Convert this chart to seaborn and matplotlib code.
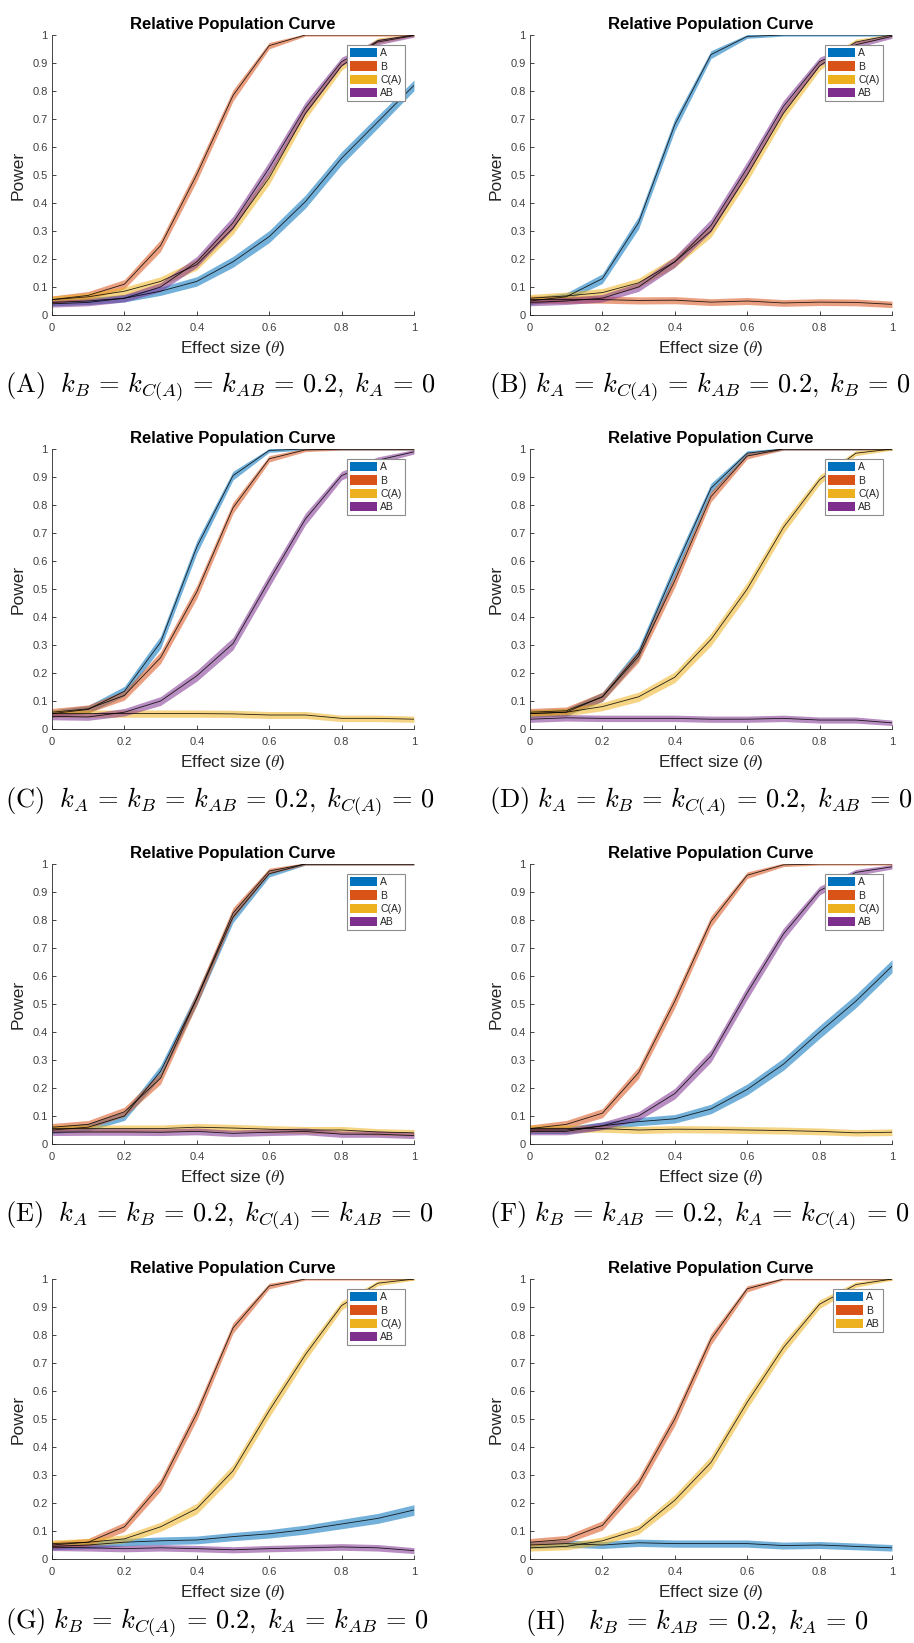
import numpy as np
import pandas as pd
import matplotlib
matplotlib.use("Agg")
import matplotlib.pyplot as plt
import seaborn as sns
from matplotlib.patches import Patch
from matplotlib.ticker import FuncFormatter

# ---------------- data ----------------
theta = [0.0, 0.1, 0.2, 0.3, 0.4, 0.5, 0.6, 0.7, 0.8, 0.9, 1.0]

# Panel A
pA_A  = [0.045, 0.050, 0.060, 0.085, 0.120, 0.190, 0.280, 0.405, 0.560, 0.690, 0.820]
pA_B  = [0.055, 0.070, 0.110, 0.248, 0.502, 0.784, 0.962, 1.000, 1.000, 1.000, 1.000]
pA_C  = [0.055, 0.065, 0.085, 0.120, 0.180, 0.310, 0.490, 0.720, 0.890, 0.980, 1.000]
pA_AB = [0.040, 0.045, 0.060, 0.100, 0.190, 0.330, 0.525, 0.740, 0.905, 0.975, 0.998]
# Panel B
pB_A  = [0.050, 0.065, 0.130, 0.330, 0.680, 0.930, 0.995, 1.000, 1.000, 1.000, 1.000]
pB_B  = [0.055, 0.055, 0.055, 0.052, 0.053, 0.046, 0.050, 0.043, 0.046, 0.045, 0.038]
pB_C  = [0.060, 0.068, 0.080, 0.115, 0.190, 0.300, 0.500, 0.720, 0.890, 0.975, 1.000]
pB_AB = [0.045, 0.050, 0.060, 0.100, 0.190, 0.320, 0.525, 0.745, 0.905, 0.965, 0.995]
# Panel C
pC_A  = [0.055, 0.070, 0.135, 0.310, 0.650, 0.905, 0.995, 1.000, 1.000, 1.000, 1.000]
pC_B  = [0.060, 0.072, 0.120, 0.255, 0.490, 0.790, 0.965, 0.997, 1.000, 1.000, 1.000]
pC_C  = [0.055, 0.055, 0.055, 0.055, 0.055, 0.054, 0.050, 0.050, 0.038, 0.038, 0.035]
pC_AB = [0.045, 0.043, 0.060, 0.100, 0.190, 0.305, 0.530, 0.750, 0.905, 0.960, 0.990]
# Panel D
pD_A  = [0.055, 0.060, 0.115, 0.270, 0.570, 0.860, 0.985, 1.000, 1.000, 1.000, 1.000]
pD_B  = [0.060, 0.065, 0.115, 0.260, 0.530, 0.830, 0.975, 1.000, 1.000, 1.000, 1.000]
pD_C  = [0.055, 0.060, 0.080, 0.115, 0.185, 0.320, 0.500, 0.720, 0.890, 0.985, 1.000]
pD_AB = [0.035, 0.040, 0.038, 0.038, 0.038, 0.035, 0.035, 0.038, 0.032, 0.032, 0.022]
# Panel E
pE_A  = [0.050, 0.060, 0.100, 0.260, 0.520, 0.810, 0.965, 1.000, 1.000, 1.000, 1.000]
pE_B  = [0.060, 0.070, 0.115, 0.235, 0.520, 0.825, 0.975, 1.000, 1.000, 1.000, 1.000]
pE_C  = [0.055, 0.055, 0.055, 0.055, 0.060, 0.057, 0.053, 0.050, 0.050, 0.043, 0.040]
pE_AB = [0.042, 0.043, 0.043, 0.042, 0.045, 0.038, 0.042, 0.045, 0.035, 0.035, 0.030]
# Panel F
pF_A  = [0.050, 0.050, 0.065, 0.080, 0.090, 0.125, 0.195, 0.285, 0.400, 0.510, 0.635]
pF_B  = [0.055, 0.070, 0.110, 0.255, 0.510, 0.795, 0.960, 0.997, 1.000, 1.000, 1.000]
pF_C  = [0.055, 0.055, 0.055, 0.050, 0.053, 0.052, 0.050, 0.048, 0.045, 0.040, 0.042]
pF_AB = [0.045, 0.045, 0.065, 0.100, 0.180, 0.315, 0.540, 0.750, 0.905, 0.970, 0.990]
# Panel G
pG_A  = [0.045, 0.050, 0.060, 0.065, 0.068, 0.080, 0.090, 0.105, 0.125, 0.145, 0.175]
pG_B  = [0.050, 0.060, 0.115, 0.265, 0.520, 0.825, 0.975, 1.000, 1.000, 1.000, 1.000]
pG_C  = [0.055, 0.060, 0.072, 0.115, 0.180, 0.315, 0.530, 0.730, 0.905, 0.985, 1.000]
pG_AB = [0.042, 0.040, 0.037, 0.040, 0.037, 0.033, 0.037, 0.040, 0.043, 0.040, 0.030]
# Panel H (three series)
pH_A  = [0.050, 0.055, 0.050, 0.058, 0.055, 0.055, 0.055, 0.048, 0.050, 0.045, 0.040]
pH_B  = [0.060, 0.070, 0.120, 0.270, 0.500, 0.785, 0.965, 1.000, 1.000, 1.000, 1.000]
pH_AB = [0.040, 0.045, 0.065, 0.105, 0.210, 0.345, 0.560, 0.755, 0.910, 0.980, 1.000]

labels4 = ["A", "B", "C(A)", "AB"]
labels3 = ["A", "B", "AB"]
colors4 = ["#0072BD", "#D95319", "#EDB120", "#7E2F8E"]
colors3 = ["#0072BD", "#D95319", "#EDB120"]
N_SIM = 2500  # simulations per point, used for the binomial confidence band

EQ = r"\,=\,"
CM = r",\;"
panels = [
    ("A", labels4, colors4, [pA_A, pA_B, pA_C, pA_AB],
     r"$\mathrm{(A)}\ \ k_B" + EQ + r"k_{C(A)}" + EQ + r"k_{AB}" + EQ + r"0.2" + CM + r"k_A" + EQ + r"0$"),
    ("B", labels4, colors4, [pB_A, pB_B, pB_C, pB_AB],
     r"$\mathrm{(B)}\ k_A" + EQ + r"k_{C(A)}" + EQ + r"k_{AB}" + EQ + r"0.2" + CM + r"k_B" + EQ + r"0$"),
    ("C", labels4, colors4, [pC_A, pC_B, pC_C, pC_AB],
     r"$\mathrm{(C)}\ \ k_A" + EQ + r"k_B" + EQ + r"k_{AB}" + EQ + r"0.2" + CM + r"k_{C(A)}" + EQ + r"0$"),
    ("D", labels4, colors4, [pD_A, pD_B, pD_C, pD_AB],
     r"$\mathrm{(D)}\ k_A" + EQ + r"k_B" + EQ + r"k_{C(A)}" + EQ + r"0.2" + CM + r"k_{AB}" + EQ + r"0$"),
    ("E", labels4, colors4, [pE_A, pE_B, pE_C, pE_AB],
     r"$\mathrm{(E)}\ \ k_A" + EQ + r"k_B" + EQ + r"0.2" + CM + r"k_{C(A)}" + EQ + r"k_{AB}" + EQ + r"0$"),
    ("F", labels4, colors4, [pF_A, pF_B, pF_C, pF_AB],
     r"$\mathrm{(F)}\ k_B" + EQ + r"k_{AB}" + EQ + r"0.2" + CM + r"k_A" + EQ + r"k_{C(A)}" + EQ + r"0$"),
    ("G", labels4, colors4, [pG_A, pG_B, pG_C, pG_AB],
     r"$\mathrm{(G)}\ k_B" + EQ + r"k_{C(A)}" + EQ + r"0.2" + CM + r"k_A" + EQ + r"k_{AB}" + EQ + r"0$"),
    ("H", labels3, colors3, [pH_A, pH_B, pH_AB],
     r"$\mathrm{(H)}\ \ \ k_B" + EQ + r"k_{AB}" + EQ + r"0.2" + CM + r"k_A" + EQ + r"0$"),
]

# ---------------- style ----------------
sns.set_theme(style="ticks")
plt.rcParams["font.family"] = ["Liberation Sans", "DejaVu Sans"]
plt.rcParams["mathtext.fontset"] = "cm"
plt.rcParams["axes.unicode_minus"] = False

W, H = 914, 1643
fig = plt.figure(figsize=(W / 100, H / 100), dpi=100)
fig.patch.set_facecolor("white")

ax_w, ax_h = 362, 280
col_x = [52, 530]
row_top = [35, 449, 864, 1279]
cap_x = [5, 489]
cap_base = [393, 808, 1222, 1629]
axis_gray = "#262626"

for i, (letter, labels, colors, series, caption) in enumerate(panels):
    r, c = divmod(i, 2)
    x0 = col_x[c]
    top = row_top[r]
    ax = fig.add_axes([x0 / W, 1 - (top + ax_h) / H, ax_w / W, ax_h / H])
    ax.set_facecolor("white")

    rows = []
    for lab, vals in zip(labels, series):
        for t, v in zip(theta, vals):
            rows.append({"theta": t, "power": v, "series": lab})
    df = pd.DataFrame(rows)

    # confidence bands + mean lines
    for lab, col in zip(labels, colors):
        sub = df[df["series"] == lab]
        p = sub["power"].to_numpy()
        half = 1.96 * np.sqrt(np.clip(p * (1 - p), 0, None) / N_SIM) + 0.004
        ax.fill_between(sub["theta"], p - half, p + half, color=col,
                        alpha=0.55, linewidth=0)
        sns.lineplot(data=sub, x="theta", y="power", color="black",
                     linewidth=0.6, alpha=0.85, ax=ax, legend=False,
                     estimator=None)

    ax.set_xlim(0, 1)
    ax.set_ylim(0, 1)
    ax.set_xticks([0, 0.2, 0.4, 0.6, 0.8, 1.0])
    ax.set_yticks(np.round(np.arange(0, 1.01, 0.1), 1))
    fmt = FuncFormatter(lambda v, pos: "%g" % round(v, 2))
    ax.xaxis.set_major_formatter(fmt)
    ax.yaxis.set_major_formatter(fmt)
    ax.tick_params(direction="in", length=3, width=0.6, colors=axis_gray,
                   labelsize=8, labelcolor="#404040")
    ax.tick_params(axis="x", pad=6)
    ax.tick_params(axis="y", pad=3)
    for s in ["top", "right"]:
        ax.spines[s].set_visible(False)
    for s in ["left", "bottom"]:
        ax.spines[s].set_color(axis_gray)
        ax.spines[s].set_linewidth(0.6)

    ax.set_title("Relative Population Curve", fontsize=12, fontweight="bold",
                 color="black", pad=4)
    ax.set_xlabel(r"Effect size ($\theta$)", fontsize=12.5, color=axis_gray,
                  labelpad=4)
    ax.set_ylabel("Power", fontsize=12.5, color=axis_gray, labelpad=5)

    handles = [Patch(facecolor=col, edgecolor="none", label=lab)
               for lab, col in zip(labels, colors)]
    leg = ax.legend(handles=handles, loc="upper right",
                    bbox_to_anchor=(0.975, 0.965), fontsize=7.5,
                    frameon=True, fancybox=False, framealpha=1,
                    edgecolor="#8c8c8c", handlelength=2.6, handleheight=1.0,
                    handletextpad=0.3, labelspacing=0.3, borderpad=0.3,
                    borderaxespad=0)
    leg.get_frame().set_linewidth(0.8)

    cx = cap_x[c] if letter != "H" else 525
    fig.text(cx / W, 1 - cap_base[r] / H, caption, fontsize=19,
             ha="left", va="baseline", color="black")

fig.savefig("out.png", dpi=100, facecolor="white")
